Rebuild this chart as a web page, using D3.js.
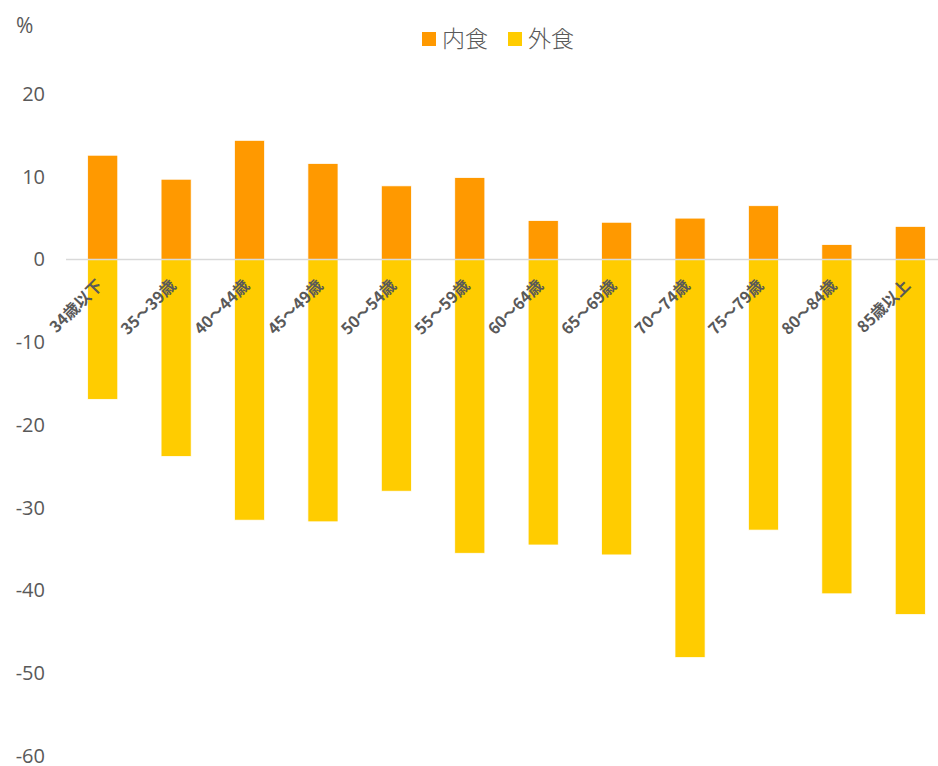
<!DOCTYPE html>
<html>
<head>
<meta charset="utf-8">
<script src="https://cdn.jsdelivr.net/npm/d3@7"></script>
<style>
  body { margin: 0; background: #fff; }
  svg { display: block; }
</style>
</head>
<body>
<svg id="chart" width="938" height="766"></svg>
<script>
// age groups and the two series (% change)
const categories = ['34歳以下', '35～39歳', '40～44歳', '45～49歳', '50～54歳', '55～59歳',
                    '60～64歳', '65～69歳', '70～74歳', '75～79歳', '80～84歳', '85歳以上'];
const naishoku = [12.6, 9.7, 14.4, 11.6, 8.9, 9.9, 4.7, 4.5, 5.0, 6.5, 1.8, 4.0];
const gaishoku = [-16.9, -23.8, -31.5, -31.7, -28.0, -35.5, -34.5, -35.7, -48.1, -32.7, -40.4, -42.9];
const yTicks = [20, 10, 0, -10, -20, -30, -40, -50, -60];
const seriesNames = ['内食', '外食'];
const colors = ['#FF9900', '#FFCC00'];

const svg = d3.select('#chart');
const textColor = '#595959';

const x = d3.scaleBand()
    .domain(categories)
    .range([66, 947])
    .paddingInner(0.59)
    .paddingOuter(0.295);

const y = d3.scaleLinear()
    .domain([-60, 20])
    .range([756, 94]);

// y axis labels (no line), plain hyphen for negatives
const yAxis = svg.append('g')
    .attr('transform', 'translate(45,0)')
    .call(d3.axisLeft(y).tickValues(yTicks).tickSize(0).tickPadding(0)
        .tickFormat(d => String(d)));
yAxis.select('.domain').remove();
yAxis.selectAll('text')
    .attr('fill', textColor)
    .attr('font-family', '"Open Sans", sans-serif')
    .attr('font-size', '20px');

// unit
svg.append('text')
    .attr('x', 16).attr('y', 33)
    .attr('fill', textColor)
    .attr('font-family', '"Open Sans", sans-serif')
    .attr('font-size', '21px')
    .text('%');

// bars
const bars = svg.append('g');
[naishoku, gaishoku].forEach((vals, s) => {
    bars.selectAll(null)
        .data(vals)
        .enter()
        .append('rect')
        .attr('x', (d, i) => x(categories[i]))
        .attr('width', x.bandwidth())
        .attr('y', d => y(Math.max(0, d)))
        .attr('height', d => Math.abs(y(d) - y(0)))
        .attr('fill', colors[s])
        .attr('stroke', '#fff')
        .attr('stroke-width', 0.75);
});

// zero line
svg.append('line')
    .attr('x1', 66).attr('x2', 938)
    .attr('y1', y(0)).attr('y2', y(0))
    .attr('stroke', '#D9D9D9')
    .attr('stroke-width', 1.5);

// category labels, rotated
svg.append('g')
    .selectAll('text')
    .data(categories)
    .enter()
    .append('text')
    .attr('transform', d => `translate(${x(d) + x.bandwidth() / 2 + 1},${y(0) + 27}) rotate(-45)`)
    .attr('text-anchor', 'end')
    .attr('fill', textColor)
    .attr('font-family', '"Noto Sans CJK JP", sans-serif')
    .attr('font-weight', 'bold')
    .attr('font-size', '16px')
    .text(d => d);

// legend
const legend = svg.append('g');
const legendX = [422, 508];
seriesNames.forEach((name, i) => {
    legend.append('rect')
        .attr('x', legendX[i]).attr('y', 32)
        .attr('width', 14).attr('height', 14)
        .attr('fill', colors[i]);
    legend.append('text')
        .attr('x', legendX[i] + 20).attr('y', 47)
        .attr('fill', textColor)
        .attr('font-family', '"Noto Sans CJK JP", sans-serif')
        .attr('font-weight', 300)
        .attr('font-size', '23px')
        .text(name);
});
</script>
</body>
</html>
